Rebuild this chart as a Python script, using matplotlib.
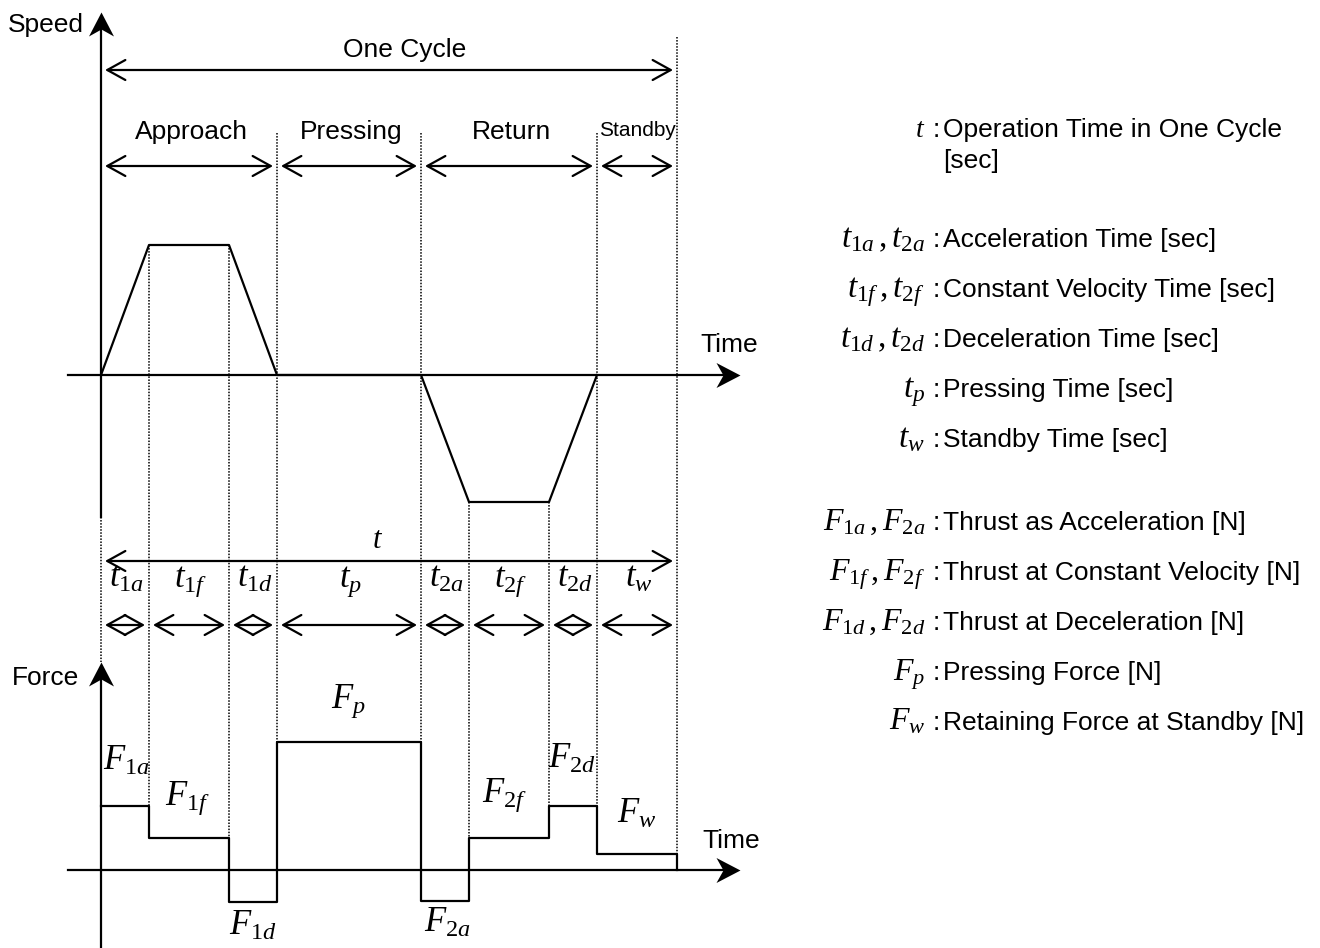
import numpy as np
import matplotlib
matplotlib.use('Agg')
import matplotlib.pyplot as plt
from matplotlib.path import Path

plt.rcParams['font.family'] = ['Liberation Sans', 'DejaVu Sans']
plt.rcParams['mathtext.fontset'] = 'custom'
plt.rcParams['mathtext.rm'] = 'Liberation Serif'
plt.rcParams['mathtext.it'] = 'Liberation Serif:italic'

# segment durations (diagram time units) and profile levels
seg_subs = ['1a', '1f', '1d', 'p', '2a', '2f', '2d', 'w']
seg_durations = [48, 80, 48, 144, 48, 80, 48, 80]
speed_at_bounds = [0, 130, 130, 0, 0, -127, -127, 0, 0]
force_levels = [64, 32, -32, 128, -31, 32, 64, 16]
force_label_pos = [(126, 770), (188, 805), (253, 935), (348, 708),
                   (447, 932), (505, 802), (572, 768), (637, 823)]

phases = ['Approach', 'Pressing', 'Return', 'Standby']
phase_bounds = [0, 3, 4, 7, 8]   # boundary index of each phase edge

legend_t = [(r'$t$', 'Operation Time in One Cycle', 137),
            (r'$t_{1a}\,,t_{2a}$', 'Acceleration Time [sec]', 247),
            (r'$t_{1f}\,,t_{2f}$', 'Constant Velocity Time [sec]', 297),
            (r'$t_{1d}\,,t_{2d}$', 'Deceleration Time [sec]', 347),
            (r'$t_p$', 'Pressing Time [sec]', 397),
            (r'$t_w$', 'Standby Time [sec]', 447)]
legend_f = [(r'$F_{1a}\,,F_{2a}$', 'Thrust as Acceleration [N]', 530),
            (r'$F_{1f}\,,F_{2f}$', 'Thrust at Constant Velocity [N]', 580),
            (r'$F_{1d}\,,F_{2d}$', 'Thrust at Deceleration [N]', 630),
            (r'$F_p$', 'Pressing Force [N]', 680),
            (r'$F_w$', 'Retaining Force at Standby [N]', 730)]

# layout of the drawing (pixels)
x0 = 101
speed_y0 = 375
force_y0 = 870

bounds = x0 + np.concatenate([[0], np.cumsum(seg_durations)])
speed_y = speed_y0 - np.array(speed_at_bounds)
force_y = force_y0 - np.array(force_levels)

fig = plt.figure(figsize=(13.2, 9.48), dpi=100)
ax = fig.add_axes([0, 0, 1, 1])
ax.set_xlim(0, 1320)
ax.set_ylim(948, 0)
ax.axis('off')

lw = 1.6
up_head = Path([(0, 0), (-12.5, -24), (0, -17), (12.5, -24), (0, 0)],
               [Path.MOVETO, Path.LINETO, Path.LINETO, Path.LINETO, Path.CLOSEPOLY])
right_head = Path([(0, 0), (-24, 12.5), (-17, 0), (-24, -12.5), (0, 0)],
                  [Path.MOVETO, Path.LINETO, Path.LINETO, Path.LINETO, Path.CLOSEPOLY])
head_ms = 2 * 24 * 0.72

# dotted guide lines
dot = dict(color='black', lw=1.1, ls=(0, (1, 1)), zorder=1)
for i, bx in enumerate(bounds):
    if i == 0:
        top, bottom = 517, 662
    else:
        if i == len(bounds) - 1:
            top = 37
        elif i in phase_bounds:
            top = 133
        else:
            top = speed_y[i]
        left = force_levels[i - 1]
        right = force_levels[i] if i < len(force_levels) else 0
        bottom = force_y0 - max(left, right)
    ax.plot([bx, bx], [top, bottom], **dot)

# speed axes
ax.plot([x0, x0], [517, 20], color='black', lw=lw)
ax.plot([x0], [12], marker=up_head, ms=head_ms, color='black', mew=0)
ax.plot([68, 732], [speed_y0, speed_y0], color='black', lw=lw)
ax.plot([740], [speed_y0], marker=right_head, ms=head_ms, color='black', mew=0)
ax.plot(bounds[:8], speed_y[:8], color='black', lw=lw, zorder=3)

# force axes
ax.plot([x0, x0], [948, 670], color='black', lw=lw)
ax.plot([x0], [662], marker=up_head, ms=head_ms, color='black', mew=0)
ax.plot([68, 732], [force_y0, force_y0], color='black', lw=lw)
ax.plot([740], [force_y0], marker=right_head, ms=head_ms, color='black', mew=0)
fx = np.concatenate([np.repeat(bounds, 2)[1:-1], [bounds[-1]]])
fy = np.concatenate([np.repeat(force_y, 2), [force_y0]])
ax.plot(fx, fy, color='black', lw=lw, zorder=3)


def darrow(xa, xb, y, gap=4):
    ax.annotate('', xy=(xb - gap, y), xytext=(xa + gap, y),
                arrowprops=dict(arrowstyle='<->,head_length=13,head_width=7.2',
                                mutation_scale=1, lw=lw, color='black',
                                shrinkA=0, shrinkB=0))


txt = dict(fontsize=19, color='black')
# one cycle
darrow(bounds[0], bounds[-1], 70)
ax.text(405, 57, 'One Cycle', ha='center', va='baseline', **txt)
# phases
for k, name in enumerate(phases):
    xa, xb = bounds[phase_bounds[k]], bounds[phase_bounds[k + 1]]
    darrow(xa, xb, 166)
    if name == 'Standby':
        ax.text((xa + xb) / 2, 136, name, ha='center', va='baseline', fontsize=15)
    else:
        ax.text((xa + xb) / 2 + 2, 139, name, ha='center', va='baseline', **txt)

# time segments
darrow(bounds[0], bounds[-1], 561)
ax.text(378, 548, r'$t$', ha='center', va='baseline', fontsize=22)
for i, sub in enumerate(seg_subs):
    xa, xb = bounds[i], bounds[i + 1]
    darrow(xa, xb, 625)
    ax.text((xa + xb) / 2 + 2, 587, r'$t_{%s}$' % sub, ha='center', va='baseline', fontsize=25)

# force labels
for sub, (lx, ly) in zip(seg_subs, force_label_pos):
    ax.text(lx, ly, r'$F_{%s}$' % sub, ha='center', va='baseline', fontsize=25)

# axis titles
ax.text(8, 32, 'Speed', ha='left', va='baseline', **txt)
ax.text(12, 685, 'Force', ha='left', va='baseline', **txt)
ax.text(700, 352, 'Time', ha='left', va='baseline', **txt)
ax.text(702, 848, 'Time', ha='left', va='baseline', **txt)

# legend on the right
for sym, desc, by in legend_t + legend_f:
    size = 20 if sym == r'$t$' else (23 if sym.startswith(r'$F') else 24)
    ax.text(925, by, sym, ha='right', va='baseline', fontsize=size)
    ax.text(936, by, ':', ha='center', va='baseline', **txt)
    ax.text(943, by, desc, ha='left', va='baseline', **txt)
ax.text(943, 168, '[sec]', ha='left', va='baseline', **txt)

fig.savefig('out.png', dpi=100)
